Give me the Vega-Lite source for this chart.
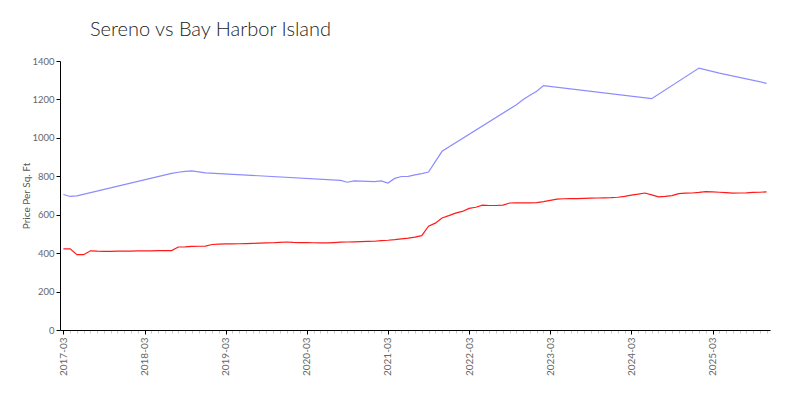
{
  "$schema": "https://vega.github.io/schema/vega-lite/v6.json",
  "autosize": "none",
  "padding": {"left": 60, "top": 61, "right": 30, "bottom": 70},
  "width": 710,
  "height": 269,
  "title": {"text": "Sereno vs Bay Harbor Island", "anchor": "start", "frame": "group", "dx": 30, "offset": 16, "fontSize": 20, "font": "Lato", "fontWeight": 300, "color": "#222"},
  "config": {"view": {"stroke": null}, "font": "Lato"},
  "data": {"values": [
    {"month":"2017-03","series":"Bay Harbor Island","price":422},
    {"month":"2017-04","series":"Bay Harbor Island","price":422},
    {"month":"2017-05","series":"Bay Harbor Island","price":392},
    {"month":"2017-06","series":"Bay Harbor Island","price":392},
    {"month":"2017-07","series":"Bay Harbor Island","price":412},
    {"month":"2017-08","series":"Bay Harbor Island","price":410},
    {"month":"2017-09","series":"Bay Harbor Island","price":409},
    {"month":"2017-10","series":"Bay Harbor Island","price":409},
    {"month":"2017-11","series":"Bay Harbor Island","price":410},
    {"month":"2017-12","series":"Bay Harbor Island","price":411},
    {"month":"2018-01","series":"Bay Harbor Island","price":411},
    {"month":"2018-02","series":"Bay Harbor Island","price":412},
    {"month":"2018-03","series":"Bay Harbor Island","price":412},
    {"month":"2018-04","series":"Bay Harbor Island","price":412},
    {"month":"2018-05","series":"Bay Harbor Island","price":413},
    {"month":"2018-06","series":"Bay Harbor Island","price":413},
    {"month":"2018-07","series":"Bay Harbor Island","price":413},
    {"month":"2018-08","series":"Bay Harbor Island","price":432},
    {"month":"2018-09","series":"Bay Harbor Island","price":433},
    {"month":"2018-10","series":"Bay Harbor Island","price":435},
    {"month":"2018-11","series":"Bay Harbor Island","price":436},
    {"month":"2018-12","series":"Bay Harbor Island","price":437},
    {"month":"2019-01","series":"Bay Harbor Island","price":445},
    {"month":"2019-02","series":"Bay Harbor Island","price":447},
    {"month":"2019-03","series":"Bay Harbor Island","price":448},
    {"month":"2019-04","series":"Bay Harbor Island","price":448},
    {"month":"2019-05","series":"Bay Harbor Island","price":449},
    {"month":"2019-06","series":"Bay Harbor Island","price":450},
    {"month":"2019-07","series":"Bay Harbor Island","price":451},
    {"month":"2019-08","series":"Bay Harbor Island","price":452},
    {"month":"2019-09","series":"Bay Harbor Island","price":453},
    {"month":"2019-10","series":"Bay Harbor Island","price":454},
    {"month":"2019-11","series":"Bay Harbor Island","price":456},
    {"month":"2019-12","series":"Bay Harbor Island","price":458},
    {"month":"2020-01","series":"Bay Harbor Island","price":456},
    {"month":"2020-02","series":"Bay Harbor Island","price":455},
    {"month":"2020-03","series":"Bay Harbor Island","price":455},
    {"month":"2020-04","series":"Bay Harbor Island","price":454},
    {"month":"2020-05","series":"Bay Harbor Island","price":453},
    {"month":"2020-06","series":"Bay Harbor Island","price":453},
    {"month":"2020-07","series":"Bay Harbor Island","price":455},
    {"month":"2020-08","series":"Bay Harbor Island","price":457},
    {"month":"2020-09","series":"Bay Harbor Island","price":458},
    {"month":"2020-10","series":"Bay Harbor Island","price":459},
    {"month":"2020-11","series":"Bay Harbor Island","price":460},
    {"month":"2020-12","series":"Bay Harbor Island","price":461},
    {"month":"2021-01","series":"Bay Harbor Island","price":462},
    {"month":"2021-02","series":"Bay Harbor Island","price":465},
    {"month":"2021-03","series":"Bay Harbor Island","price":467},
    {"month":"2021-04","series":"Bay Harbor Island","price":470},
    {"month":"2021-05","series":"Bay Harbor Island","price":474},
    {"month":"2021-06","series":"Bay Harbor Island","price":478},
    {"month":"2021-07","series":"Bay Harbor Island","price":483},
    {"month":"2021-08","series":"Bay Harbor Island","price":491},
    {"month":"2021-09","series":"Bay Harbor Island","price":540},
    {"month":"2021-10","series":"Bay Harbor Island","price":556},
    {"month":"2021-11","series":"Bay Harbor Island","price":583},
    {"month":"2021-12","series":"Bay Harbor Island","price":595},
    {"month":"2022-01","series":"Bay Harbor Island","price":608},
    {"month":"2022-02","series":"Bay Harbor Island","price":617},
    {"month":"2022-03","series":"Bay Harbor Island","price":633},
    {"month":"2022-04","series":"Bay Harbor Island","price":639},
    {"month":"2022-05","series":"Bay Harbor Island","price":650},
    {"month":"2022-06","series":"Bay Harbor Island","price":648},
    {"month":"2022-07","series":"Bay Harbor Island","price":648},
    {"month":"2022-08","series":"Bay Harbor Island","price":650},
    {"month":"2022-09","series":"Bay Harbor Island","price":661},
    {"month":"2022-10","series":"Bay Harbor Island","price":662},
    {"month":"2022-11","series":"Bay Harbor Island","price":662},
    {"month":"2022-12","series":"Bay Harbor Island","price":662},
    {"month":"2023-01","series":"Bay Harbor Island","price":663},
    {"month":"2023-02","series":"Bay Harbor Island","price":668},
    {"month":"2023-03","series":"Bay Harbor Island","price":675},
    {"month":"2023-04","series":"Bay Harbor Island","price":681},
    {"month":"2023-05","series":"Bay Harbor Island","price":683},
    {"month":"2023-06","series":"Bay Harbor Island","price":684},
    {"month":"2023-07","series":"Bay Harbor Island","price":684},
    {"month":"2023-08","series":"Bay Harbor Island","price":685},
    {"month":"2023-09","series":"Bay Harbor Island","price":686},
    {"month":"2023-10","series":"Bay Harbor Island","price":687},
    {"month":"2023-11","series":"Bay Harbor Island","price":688},
    {"month":"2023-12","series":"Bay Harbor Island","price":689},
    {"month":"2024-01","series":"Bay Harbor Island","price":691},
    {"month":"2024-02","series":"Bay Harbor Island","price":695},
    {"month":"2024-03","series":"Bay Harbor Island","price":702},
    {"month":"2024-04","series":"Bay Harbor Island","price":707},
    {"month":"2024-05","series":"Bay Harbor Island","price":713},
    {"month":"2024-06","series":"Bay Harbor Island","price":703},
    {"month":"2024-07","series":"Bay Harbor Island","price":693},
    {"month":"2024-08","series":"Bay Harbor Island","price":695},
    {"month":"2024-09","series":"Bay Harbor Island","price":699},
    {"month":"2024-10","series":"Bay Harbor Island","price":710},
    {"month":"2024-11","series":"Bay Harbor Island","price":712},
    {"month":"2024-12","series":"Bay Harbor Island","price":713},
    {"month":"2025-01","series":"Bay Harbor Island","price":716},
    {"month":"2025-02","series":"Bay Harbor Island","price":720},
    {"month":"2025-03","series":"Bay Harbor Island","price":719},
    {"month":"2025-04","series":"Bay Harbor Island","price":717},
    {"month":"2025-05","series":"Bay Harbor Island","price":715},
    {"month":"2025-06","series":"Bay Harbor Island","price":712},
    {"month":"2025-07","series":"Bay Harbor Island","price":713},
    {"month":"2025-08","series":"Bay Harbor Island","price":714},
    {"month":"2025-09","series":"Bay Harbor Island","price":716},
    {"month":"2025-10","series":"Bay Harbor Island","price":717},
    {"month":"2025-11","series":"Bay Harbor Island","price":719},
    {"month":"2017-03","series":"Sereno","price":705},
    {"month":"2017-04","series":"Sereno","price":695},
    {"month":"2017-05","series":"Sereno","price":698},
    {"month":"2018-07","series":"Sereno","price":815},
    {"month":"2018-08","series":"Sereno","price":821},
    {"month":"2018-09","series":"Sereno","price":826},
    {"month":"2018-10","series":"Sereno","price":828},
    {"month":"2018-11","series":"Sereno","price":823},
    {"month":"2018-12","series":"Sereno","price":818},
    {"month":"2020-08","series":"Sereno","price":779},
    {"month":"2020-09","series":"Sereno","price":769},
    {"month":"2020-10","series":"Sereno","price":776},
    {"month":"2020-11","series":"Sereno","price":775},
    {"month":"2020-12","series":"Sereno","price":774},
    {"month":"2021-01","series":"Sereno","price":772},
    {"month":"2021-02","series":"Sereno","price":776},
    {"month":"2021-03","series":"Sereno","price":765},
    {"month":"2021-04","series":"Sereno","price":789},
    {"month":"2021-05","series":"Sereno","price":799},
    {"month":"2021-06","series":"Sereno","price":800},
    {"month":"2021-07","series":"Sereno","price":807},
    {"month":"2021-08","series":"Sereno","price":814},
    {"month":"2021-09","series":"Sereno","price":822},
    {"month":"2021-11","series":"Sereno","price":930},
    {"month":"2022-10","series":"Sereno","price":1172},
    {"month":"2022-11","series":"Sereno","price":1200},
    {"month":"2022-12","series":"Sereno","price":1222},
    {"month":"2023-01","series":"Sereno","price":1243},
    {"month":"2023-02","series":"Sereno","price":1272},
    {"month":"2024-06","series":"Sereno","price":1204},
    {"month":"2025-01","series":"Sereno","price":1363},
    {"month":"2025-04","series":"Sereno","price":1337},
    {"month":"2025-11","series":"Sereno","price":1284}
  ]},
  "mark": {"type": "line", "strokeWidth": 1.2},
  "encoding": {
    "x": {
      "field": "month", "type": "ordinal", "sort": "ascending",
      "scale": {"type": "point", "padding": 0.5},
      "axis": {
        "title": null, "labelAngle": 270, "labelFontSize": 10, "labelColor": "#666",
        "labelOverlap": false, "labelPadding": 3,
        "labelExpr": "substring(datum.value, 5, 7) == '03' ? datum.value : ''",
        "tickColor": {"condition": {"test": "substring(datum.value, 5, 7) == '03'", "value": "#000"}, "value": "#c8c8c8"},
        "tickSize": {"condition": {"test": "substring(datum.value, 5, 7) == '03'", "value": 4}, "value": 3},
        "domainColor": "#000", "grid": false
      }
    },
    "y": {
      "field": "price", "type": "quantitative",
      "scale": {"domain": [0, 1400], "nice": false},
      "axis": {
        "title": "Price Per Sq. Ft", "titleFontSize": 10, "titleColor": "#555", "titleFontWeight": "normal",
        "titlePadding": 0, "values": [0, 200, 400, 600, 800, 1000, 1200, 1400], "format": "d",
        "labelFontSize": 9.5, "labelColor": "#666", "tickSize": 4, "tickColor": "#000",
        "domainColor": "#000", "grid": false
      }
    },
    "color": {
      "field": "series", "type": "nominal",
      "scale": {"domain": ["Sereno", "Bay Harbor Island"], "range": ["#8c8cff", "#ff1a1a"]},
      "legend": null
    }
  }
}
